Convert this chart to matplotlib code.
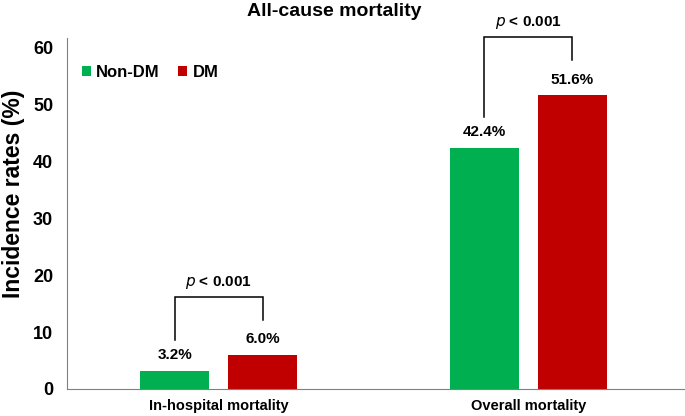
import numpy as np
import matplotlib
matplotlib.use("Agg")
import matplotlib.pyplot as plt

plt.rcParams['font.family'] = ['Liberation Sans', 'DejaVu Sans']

groups = ["In-hospital mortality", "Overall mortality"]
non_dm = [3.2, 42.4]
dm = [6.0, 51.6]
p_labels = ["< 0.001", "< 0.001"]

green = "#00B050"
red = "#C00000"

fig = plt.figure(figsize=(6.85, 4.16), dpi=100)
ax = fig.add_axes([0.098, 0.065, 0.902, 0.844])

x = np.arange(len(groups))
off = 0.142
w = 0.223
b1 = ax.bar(x - off, non_dm, w, color=green, label="Non-DM")
b2 = ax.bar(x + off, dm, w, color=red, label="DM")

for xi, v in zip(x - off, non_dm):
    ax.text(xi, v + 1.5, f"{v:.1f}%", ha="center", va="bottom", fontsize=11, fontweight="bold")
for xi, v in zip(x + off, dm):
    ax.text(xi, v + 1.5, f"{v:.1f}%", ha="center", va="bottom", fontsize=11, fontweight="bold")

# significance brackets
for xi, a, b, p in zip(x, non_dm, dm, p_labels):
    top = max(a, b) + 10.2
    l = xi - off
    r = xi + off
    ax.plot([l, l, r, r], [a + 5.4, top, top, b + 6.2], color="black", lw=1.1,
            clip_on=False, solid_joinstyle="miter")
    ax.text(xi, top + 1.1, r"$\it{p}$" + " " + p, ha="center", va="bottom",
            fontsize=11, fontweight="bold", clip_on=False)

ax.set_xlim(-0.49, 1.507)
ax.set_ylim(0, 61.7)
ax.set_yticks([0, 10, 20, 30, 40, 50, 60])
ax.set_xticks(x)
ax.set_xticklabels(groups, fontsize=10.5, fontweight="bold")
ax.tick_params(axis="x", length=0, pad=7)
ax.tick_params(axis="y", length=0, labelsize=13, pad=10)
for lab in ax.get_yticklabels():
    lab.set_fontweight("bold")
ax.set_ylabel("Incidence rates (%)", fontsize=16.5, fontweight="bold")
ax.yaxis.set_label_coords(-0.068, 0.556)

for s in ["top", "right"]:
    ax.spines[s].set_visible(False)
ax.spines["left"].set_color("#808080")
ax.spines["bottom"].set_color("#808080")

ax.legend(loc="upper left", bbox_to_anchor=(0.0, 0.965), ncol=2, frameon=False,
          handlelength=0.55, handleheight=0.55, handletextpad=0.3, columnspacing=1.1,
          prop={"weight": "bold", "size": 12})

fig.text(0.488, 0.973, "All-cause mortality", ha="center", va="center",
         fontsize=14, fontweight="bold")

fig.savefig("out.png", dpi=100)
